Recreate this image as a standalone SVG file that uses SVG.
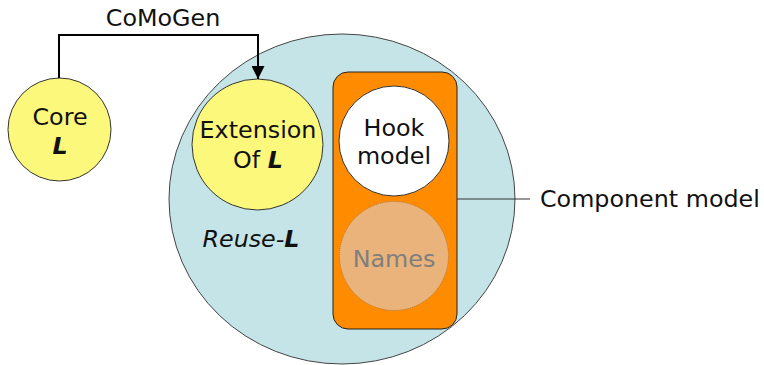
<svg xmlns="http://www.w3.org/2000/svg" width="764" height="365" viewBox="0 0 764 365">
  <defs>
    <marker id="arrow" markerUnits="userSpaceOnUse" markerWidth="13" markerHeight="13" viewBox="0 0 12 12" refX="12" refY="6" orient="auto">
      <path d="M0,0 L12,6 L0,12 Z" fill="#000"/>
    </marker>
    <style>
      text { font-family: "DejaVu Sans", Verdana, sans-serif; font-size: 23.8px; fill: #111; text-anchor: middle; }
      .bold { font-weight: bold; font-style: italic; }
      .ital { font-style: italic; }
      .yellow { fill: #FCF87C; stroke: #333; stroke-width: 1; }
      .edge { fill: none; stroke: #000; stroke-width: 2; }
    </style>
  </defs>
  <rect width="764" height="365" fill="#fff"/>

  <!-- Reuse-L container -->
  <g id="reuse">
    <ellipse cx="342" cy="199" rx="173" ry="165" fill="#C5E4E8" stroke="#444" stroke-width="1"/>
    <text x="251" y="247" class="ital">Reuse-<tspan class="bold">L</tspan></text>
  </g>

  <!-- Component model -->
  <g id="component">
    <rect x="333" y="72" width="124" height="257" rx="15" ry="15" fill="#FF8C00" stroke="#222" stroke-width="1"/>
    <line x1="457" y1="199" x2="530" y2="199" stroke="#333" stroke-width="1"/>
    <text x="540" y="207" style="text-anchor:start">Component model</text>
  </g>

  <g id="hook">
    <circle cx="394" cy="141" r="55" fill="#fff" stroke="#333" stroke-width="1"/>
    <text x="394" y="136">Hook</text>
    <text x="394" y="164">model</text>
  </g>

  <g id="names">
    <circle cx="394" cy="256" r="54.5" fill="#E9B37B" stroke="#B07A45" stroke-width="1" stroke-dasharray="1 1"/>
    <text x="394" y="267" style="fill:#7F7F7F">Names</text>
  </g>

  <g id="core">
    <circle cx="59.5" cy="129.5" r="51.5" class="yellow"/>
    <text x="60" y="125">Core</text>
    <text x="60" y="154" class="bold">L</text>
  </g>

  <g id="extension">
    <circle cx="257.5" cy="144.5" r="65.5" class="yellow"/>
    <text x="258" y="138">Extension</text>
    <text x="258" y="168">Of <tspan class="bold">L</tspan></text>
  </g>

  <!-- Connectors -->
  <g id="connectors">
    <path class="edge" d="M59,78 V35 H258 V79" marker-end="url(#arrow)"/>
    <text x="163" y="26">CoMoGen</text>
  </g>
</svg>
